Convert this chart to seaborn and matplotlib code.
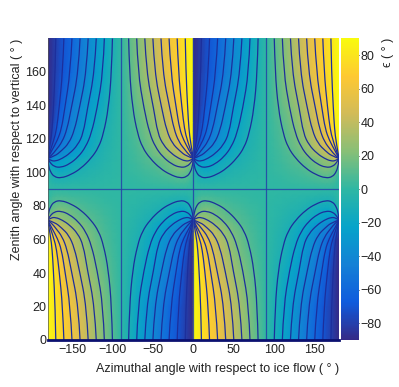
import numpy as np
import matplotlib
matplotlib.use('Agg')
import matplotlib.pyplot as plt
from matplotlib.colors import LinearSegmentedColormap
from matplotlib.patches import PathPatch
from matplotlib.path import Path
from matplotlib.ticker import MultipleLocator
import seaborn as sns

# One quadrant, the rest repeats it with sign flips
azimuth_q = [0.05, 3, 6, 10, 15, 20, 30, 40, 50, 60, 70, 80, 90]
zenith_q = [0, 20, 40, 50, 60, 65, 70, 72, 75, 78, 82, 86, 90]
epsilon_q = [
    [89.9, 87, 84, 80, 75, 70, 60, 50, 40, 30, 20, 10, 0],
    [89.8, 87, 83.5, 79, 74, 69, 59, 48.5, 38.5, 28.5, 18.5, 9, 0],
    [89.5, 86.5, 82.5, 77, 68.5, 61, 49, 39, 29, 21, 13.5, 6.5, 0],
    [89.5, 85.5, 80, 72, 63, 56, 44, 34, 25, 17, 10.5, 5, 0],
    [89.5, 84, 75, 66, 57, 50, 38, 29, 20, 13.5, 8, 4, 0],
    [88, 70, 62, 55, 47, 42, 34, 25, 18, 12, 7, 3.5, 0],
    [80, 55, 47, 40, 36, 33, 26, 19.5, 14, 9, 5.5, 2.5, 0],
    [50, 42, 36, 31, 27, 24, 19, 15, 11.5, 8, 5, 2.5, 0],
    [15, 19, 21, 22, 22, 21, 16.5, 12.5, 9.5, 6.5, 4, 2, 0],
    [4, 10, 13.5, 17, 19.5, 18.5, 13.5, 10, 7, 5, 3, 1.5, 0],
    [1, 5, 9, 10.5, 11, 10.5, 8.5, 6, 4.5, 3, 2, 1, 0],
    [0.5, 2, 4, 5, 5.5, 5.2, 4.2, 3, 2.2, 1.5, 1, 0.5, 0],
    [0, 0, 0, 0, 0, 0, 0, 0, 0, 0, 0, 0, 0],
]

# Contour lines of epsilon in the same quadrant, read point by point
level_10_az = [80, 79, 75, 69, 63, 53.6, 41, 29, 16.5, 8, 3.3, 0.8, 0]
level_10_zen = [0, 20, 42, 56.7, 65, 71.6, 77.6, 81.2, 83.4, 82.6, 79.6, 75.6, 71.6]
level_20_az = [70, 68.5, 61, 54, 47, 38, 26.8, 16.5, 8, 2, 0]
level_20_zen = [0, 20, 42, 56.7, 64.7, 70.6, 75, 77, 76.6, 73.6, 71.6]
level_30_az = [60, 58, 49, 44, 37, 27, 18, 10, 4, 0]
level_30_zen = [0, 20, 42, 56.7, 63.7, 68.7, 71.6, 73.2, 73, 71.6]
level_40_az = [50, 48, 39, 33, 26, 17, 9, 0]
level_40_zen = [0, 20, 42, 55, 62.7, 67, 70.2, 71.6]
level_50_az = [40, 38, 29, 24, 18, 10, 5, 0]
level_50_zen = [0, 20, 42, 54, 61.7, 66.7, 69.7, 71.6]
level_60_az = [30, 28, 21, 17, 12, 6, 0]
level_60_zen = [0, 20, 42, 54, 60.7, 66, 71.6]
level_70_az = [20, 18.5, 14, 11, 7.5, 0]
level_70_zen = [0, 20, 42, 54, 61, 71.6]
level_80_az = [10, 9.2, 7, 5.5, 3.5, 0]
level_80_zen = [0, 20, 42, 54, 62, 71.6]

level_lines = [(level_10_az, level_10_zen), (level_20_az, level_20_zen),
               (level_30_az, level_30_zen), (level_40_az, level_40_zen),
               (level_50_az, level_50_zen), (level_60_az, level_60_zen),
               (level_70_az, level_70_zen), (level_80_az, level_80_zen)]

bar_ticks = [-80, -60, -40, -20, 0, 20, 40, 60, 80]
x_ticks = [-150, -100, -50, 0, 50, 100, 150]
y_ticks = [0, 20, 40, 60, 80, 100, 120, 140, 160]
zero_az = [-90, 0, 90]
zero_zen = [90]

# ROOT kBird palette
bird = [(0.2082, 0.1664, 0.5293), (0.0592, 0.3599, 0.8684), (0.0780, 0.5041, 0.8385),
        (0.0232, 0.6419, 0.7914), (0.1802, 0.7178, 0.6425), (0.5301, 0.7492, 0.4662),
        (0.8186, 0.7328, 0.3499), (0.9956, 0.7862, 0.1968), (0.9764, 0.9832, 0.0539)]
cmap = LinearSegmentedColormap.from_list('bird', bird, N=256)
line_color = '#1c2f9c'

# Mirror the quadrant out to the whole sky
az_q = np.array(azimuth_q)
zen_q = np.array(zenith_q)
q = np.array(epsilon_q)
right = np.hstack([q, -q[:, -2::-1]])
az_right = np.concatenate([az_q, 180 - az_q[-2::-1]])
lower = np.hstack([-right[:, ::-1], right])
azimuth = np.concatenate([-az_right[::-1], az_right])
epsilon = np.vstack([lower, -lower[-2::-1]])
zenith = np.concatenate([zen_q, 180 - zen_q[-2::-1]])

sns.set_theme(style='white')
plt.rcParams['font.family'] = ['Liberation Sans', 'DejaVu Sans']
plt.rcParams['text.color'] = '#222222'
plt.rcParams['axes.labelcolor'] = '#222222'

fig = plt.figure(figsize=(3.99, 3.87), dpi=100)
ax = fig.add_axes([47.7 / 399, 1 - 340 / 387, 291.3 / 399, 301.5 / 387])
cax = fig.add_axes([341 / 399, 1 - 340 / 387, 18.4 / 399, 301.5 / 387])

mesh = ax.pcolormesh(azimuth, zenith, epsilon, cmap=cmap, vmin=-90, vmax=90, shading='gouraud')


def smooth_path(xs, ys):
    # Quadratic curve through the midpoints of the read points
    pts = np.column_stack([xs, ys])
    verts = [pts[0]]
    codes = [Path.MOVETO]
    for i in range(1, len(pts) - 1):
        end = pts[i + 1] if i == len(pts) - 2 else (pts[i] + pts[i + 1]) / 2
        verts += [pts[i], end]
        codes += [Path.CURVE3, Path.CURVE3]
    return Path(verts, codes)


for az, zen in level_lines:
    az = np.array(az)
    zen = np.array(zen)
    for xs in [az, -az, 180 - az, az - 180]:
        for ys in [zen, 180 - zen]:
            ax.add_patch(PathPatch(smooth_path(xs, ys), fill=False, edgecolor=line_color, linewidth=0.9))

for x in zero_az:
    ax.axvline(x, color='#2440a8', linewidth=0.9, alpha=0.85)
for y in zero_zen:
    ax.axhline(y, color='#2440a8', linewidth=0.9, alpha=0.8)

ax.set_xlim(-180, 180)
ax.set_ylim(0, 180)

ax.set_xticks(x_ticks)
ax.set_yticks(y_ticks)
ax.yaxis.set_minor_locator(MultipleLocator(5))
ax.tick_params(axis='x', length=0, labelsize=9, pad=3, colors='#222222')
ax.tick_params(axis='y', which='major', direction='in', length=9, width=0.7, left=True,
               labelsize=9, pad=1, colors='#222222')
ax.tick_params(axis='y', which='minor', direction='in', length=5, width=0.7, left=True, colors='#222222')
ax.set_xlabel('Azimuthal angle with respect to ice flow ( ° )', fontsize=9, loc='right', labelpad=5)
ax.set_ylabel('Zenith angle with respect to vertical ( ° )', fontsize=9, loc='top', labelpad=2)
sns.despine(ax=ax, top=True, right=True)
ax.spines['left'].set_linewidth(0.5)
ax.spines['left'].set_color('#555555')
ax.spines['bottom'].set_linewidth(2)
ax.spines['bottom'].set_color('#0b1070')

cbar = fig.colorbar(mesh, cax=cax)
cbar.outline.set_visible(False)
cbar.set_ticks(bar_ticks)
cax.tick_params(axis='y', direction='in', length=10, width=0.7, right=True, labelsize=9, pad=1,
                colors='#222222')
fig.text(388 / 399, 1 - 38 / 387, 'ϵ ( ° )', rotation=90, ha='center', va='top', fontsize=9)

fig.savefig('out.png', dpi=100)
